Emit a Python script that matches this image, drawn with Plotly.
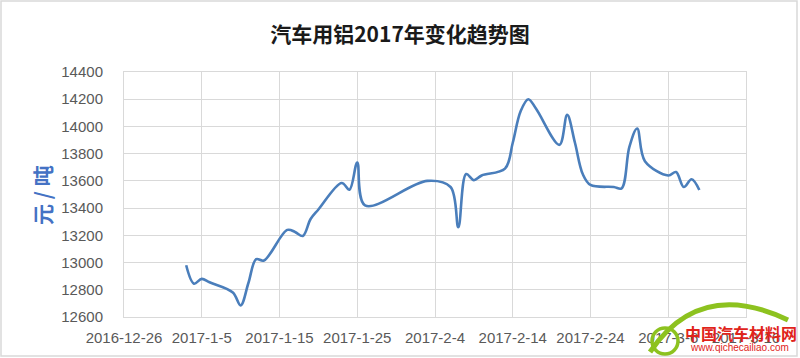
import plotly.graph_objects as go

# ---- data ----
dates = ["2017-01-03", "2017-01-04", "2017-01-05", "2017-01-06", "2017-01-09",
         "2017-01-10", "2017-01-11", "2017-01-12", "2017-01-13", "2017-01-16",
         "2017-01-17", "2017-01-18", "2017-01-19", "2017-01-20", "2017-01-23",
         "2017-01-24", "2017-01-25", "2017-01-26", "2017-02-03", "2017-02-06",
         "2017-02-07", "2017-02-08", "2017-02-09", "2017-02-10", "2017-02-13",
         "2017-02-14", "2017-02-15", "2017-02-16", "2017-02-17", "2017-02-20",
         "2017-02-21", "2017-02-22", "2017-02-23", "2017-02-24", "2017-02-27",
         "2017-02-28", "2017-03-01", "2017-03-02", "2017-03-03", "2017-03-06",
         "2017-03-07", "2017-03-08", "2017-03-09", "2017-03-10"]
prices = [12980, 12845, 12880, 12855, 12780,
          12685, 12850, 13025, 13015, 13240,
          13225, 13195, 13320, 13390, 13585,
          13535, 13735, 13420, 13600, 13555,
          13260, 13650, 13605, 13640, 13690,
          13880, 14110, 14200, 14130, 13865,
          14085, 13880, 13650, 13570, 13555,
          13545, 13850, 13985, 13745, 13640,
          13665, 13555, 13612, 13533]

x_tick_vals = ["2016-12-26", "2017-01-05", "2017-01-15", "2017-01-25", "2017-02-04",
               "2017-02-14", "2017-02-24", "2017-03-06", "2017-03-16"]
x_tick_text = ["2016-12-26", "2017-1-5", "2017-1-15", "2017-1-25", "2017-2-4",
               "2017-2-14", "2017-2-24", "2017-3-6", "2017-3-16"]

title_text = "汽车用铝2017年变化趋势图"
y_title = "元 / 吨"

# ---- layout geometry (pixels) ----
W, H = 800, 358
L, R, T, B = 124, 746, 72, 317


def px(x):
    return (x - L) / (R - L)


def py(y):
    return (B - y) / (B - T)


fig = go.Figure()
fig.add_trace(go.Scatter(
    x=dates, y=prices, mode="lines",
    line=dict(color="#4A7EBB", width=2.6, shape="spline", smoothing=1.0),
    hoverinfo="x+y", showlegend=False,
))

grid = "#d9d9d9"
tickfont = dict(family="Liberation Sans, Arial, sans-serif", size=15, color="#595959")

fig.update_layout(
    width=W, height=H,
    margin=dict(l=L, r=W - R, t=T, b=H - B, pad=0),
    paper_bgcolor="white", plot_bgcolor="white",
    title=dict(text=title_text, x=0.5, xref="container", xanchor="center",
               y=1 - 35 / H, yref="container", yanchor="middle",
               font=dict(family="Noto Sans CJK SC", size=21, color="#1a1a1a", weight="bold")),
    xaxis=dict(type="date", range=["2016-12-26", "2017-03-16"],
               tickvals=x_tick_vals, ticktext=x_tick_text,
               showgrid=True, gridcolor=grid, gridwidth=1,
               showline=True, linecolor=grid, linewidth=1, mirror=True,
               ticks="", tickfont=tickfont, ticklabelstandoff=7,
               zeroline=False, fixedrange=True),
    yaxis=dict(range=[12600, 14400], dtick=200, tick0=12600,
               showgrid=True, gridcolor=grid, gridwidth=1,
               showline=True, linecolor=grid, linewidth=1, mirror=True,
               ticks="", tickfont=tickfont, ticklabelstandoff=17,
               tickformat="d", zeroline=False, fixedrange=True),
)

annotations = [
    dict(text=y_title, xref="paper", yref="paper", x=px(42), y=py(195),
         xanchor="center", yanchor="middle", showarrow=False, textangle=-90,
         font=dict(family="Noto Sans CJK SC", size=21, color="#4472C4", weight="bold")),
    dict(text="中国汽车材料网", xref="paper", yref="paper", x=px(741), y=py(333),
         xanchor="center", yanchor="middle", showarrow=False,
         font=dict(family="Noto Sans CJK SC", size=16, color="#e0241b", weight="bold")),
    dict(text="www.qichecailiao.com", xref="paper", yref="paper", x=px(739), y=py(347),
         xanchor="center", yanchor="middle", showarrow=False,
         font=dict(family="Liberation Sans", size=10, color="#e0241b")),
]
fig.update_layout(annotations=annotations)

# chart-area border and watermark logo swoosh
shapes = [
    dict(type="rect", xref="paper", yref="paper",
         x0=px(1), x1=px(797), y0=py(356), y1=py(1),
         line=dict(color="#d9d9d9", width=1.5), fillcolor="rgba(0,0,0,0)", layer="below"),
    dict(type="path", xref="paper", yref="paper",
         path="M %f,%f Q %f,%f %f,%f" % (px(650), py(352), px(700), py(278), px(788), py(320)),
         line=dict(color="#8DC21F", width=5)),
    dict(type="circle", xref="paper", yref="paper",
         x0=px(652), x1=px(678), y0=py(354), y1=py(328),
         line=dict(color="#8DC21F", width=3.5)),
]
fig.update_layout(shapes=shapes)

fig.write_html("out.html", config={"displayModeBar": False})
